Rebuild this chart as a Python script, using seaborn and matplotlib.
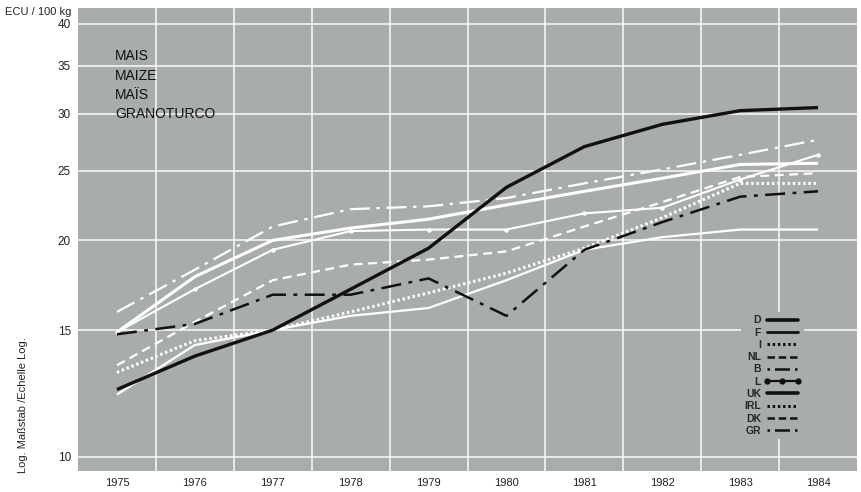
import numpy as np
import pandas as pd
import matplotlib
matplotlib.use("Agg")
import matplotlib.pyplot as plt
from matplotlib.lines import Line2D
from matplotlib.ticker import FixedLocator, FixedFormatter, NullLocator
import seaborn as sns

years = [1975, 1976, 1977, 1978, 1979, 1980, 1981, 1982, 1983, 1984]

d_vals = [12.4, 13.8, 15.0, 17.1, 19.5, 23.7, 27.0, 29.0, 30.3, 30.6]
f_vals = [14.9, 17.8, 20.0, 20.8, 21.4, 22.4, 23.4, 24.4, 25.5, 25.6]
i_vals = [13.1, 14.5, 15.0, 15.9, 16.9, 18.0, 19.5, 21.5, 24.0, 24.0]
nl_vals = [13.4, 15.4, 17.6, 18.5, 18.8, 19.3, 20.9, 22.6, 24.5, 24.8]
b_vals = [15.9, 18.2, 20.9, 22.1, 22.3, 22.9, 24.0, 25.1, 26.3, 27.6]
l_vals = [14.9, 17.1, 19.4, 20.6, 20.7, 20.7, 21.8, 22.2, 24.3, 26.3]
uk_vals = [12.2, 14.3, 15.0, 15.7, 16.1, 17.6, 19.4, 20.2, 20.7, 20.7]
gr_vals = [14.8, 15.3, 16.8, 16.8, 17.7, 15.7, 19.4, 21.2, 23.0, 23.4]

legend_labels = ["D", "F", "I", "NL", "B", "L", "UK", "IRL", "DK", "GR"]
y_ticks = [10, 15, 20, 25, 30, 35, 40]
title_lines = ["MAIS", "MAIZE", "MAÏS", "GRANOTURCO"]

series = {"D": d_vals, "F": f_vals, "I": i_vals, "NL": nl_vals,
          "B": b_vals, "L": l_vals, "UK": uk_vals, "GR": gr_vals}
df = pd.DataFrame([(k, y, v) for k, vals in series.items() for y, v in zip(years, vals)],
                  columns=["country", "year", "price"])

BG = "#a8adaa"
styles = {
    "B":  dict(color="white", lw=1.6, linestyle=(0, (9, 3, 1.5, 3))),
    "F":  dict(color="white", lw=2.2, linestyle="-"),
    "L":  dict(color="white", lw=1.5, linestyle="-", marker="o", markersize=3.2, markeredgewidth=0),
    "NL": dict(color="white", lw=1.6, linestyle=(0, (4, 2.5))),
    "I":  dict(color="white", lw=2.2, linestyle=(0, (0.8, 0.9))),
    "UK": dict(color="white", lw=1.6, linestyle="-"),
    "GR": dict(color="#111111", lw=1.8, linestyle=(0, (8, 3, 1.5, 3))),
    "D":  dict(color="#111111", lw=2.4, linestyle="-"),
}

sns.set_theme(style="white")
plt.rcParams["font.family"] = ["Liberation Sans", "DejaVu Sans"]

fig = plt.figure(figsize=(8.61, 4.92), dpi=100)
ax = fig.add_axes([78 / 861, 1 - 471 / 492, (857 - 78) / 861, (471 - 8) / 492])
ax.set_facecolor(BG)

ax.set_yscale("log")
ax.set_ylim(9.55, 42.1)
ax.set_xlim(1974.5, 1984.5)

# grid
for yv in y_ticks:
    ax.axhline(yv, color="white", lw=1.1, alpha=0.95, zorder=1)
for xv in np.arange(1975.5, 1984.5, 1.0):
    ax.axvline(xv, color="white", lw=1.1, alpha=0.95, zorder=1)

for c in ["B", "F", "L", "NL", "I", "UK", "GR", "D"]:
    sub = df[df["country"] == c]
    sns.lineplot(data=sub, x="year", y="price", ax=ax, errorbar=None,
                 legend=False, zorder=3, solid_capstyle="butt", **styles[c])

ax.yaxis.set_major_locator(FixedLocator(y_ticks))
ax.yaxis.set_major_formatter(FixedFormatter([str(t) for t in y_ticks]))
ax.yaxis.set_minor_locator(NullLocator())
ax.set_xticks(years)
ax.set_xticklabels([str(y) for y in years])
ax.tick_params(axis="y", length=0, pad=5, labelsize=8.5, labelcolor="#222222")
ax.tick_params(axis="x", length=0, pad=5, labelsize=8, labelcolor="#222222")
ax.set_xlabel("")
ax.set_ylabel("")
for s in ax.spines.values():
    s.set_visible(False)

fig.text(5 / 861, 1 - 12 / 492, "ECU / 100 kg", fontsize=8, color="#222222",
         ha="left", va="center")
fig.text(23 / 861, 1 - 405 / 492, "Log. Maßstab /Echelle Log.", fontsize=8,
         color="#222222", rotation=90, ha="center", va="center")
fig.text(115 / 861, 1 - 49 / 492, "\n".join(title_lines), fontsize=10,
         color="#111111", ha="left", va="top", linespacing=1.5)

lk = dict(color="#111111")
handles = [
    Line2D([], [], lw=2.6, linestyle="-", **lk),
    Line2D([], [], lw=2.0, linestyle="-", **lk),
    Line2D([], [], lw=2.2, linestyle=(0, (0.8, 0.9)), **lk),
    Line2D([], [], lw=1.8, linestyle=(0, (3, 1.5)), **lk),
    Line2D([], [], lw=1.8, linestyle=(0, (1, 2, 6, 2)), **lk),
    Line2D([], [], lw=1.6, linestyle="-", marker="o", markersize=3.5, **lk),
    Line2D([], [], lw=2.6, linestyle="-", **lk),
    Line2D([], [], lw=2.2, linestyle=(0, (0.8, 0.9)), **lk),
    Line2D([], [], lw=1.8, linestyle=(0, (3, 1.5)), **lk),
    Line2D([], [], lw=1.8, linestyle=(0, (1, 2, 6, 2)), **lk),
]
leg = fig.legend(handles, legend_labels, loc="upper left",
                 bbox_to_anchor=(736 / 861, 1 - 307 / 492),
                 frameon=True, facecolor=BG, edgecolor="none", framealpha=1,
                 labelspacing=0.22, handlelength=3.5,
                 handletextpad=0.3, borderpad=0.3, numpoints=3,
                 markerfirst=False, prop={"weight": "bold", "size": 7.5})
leg.set_zorder(5)

fig.savefig("out.png", dpi=100, facecolor="white")
